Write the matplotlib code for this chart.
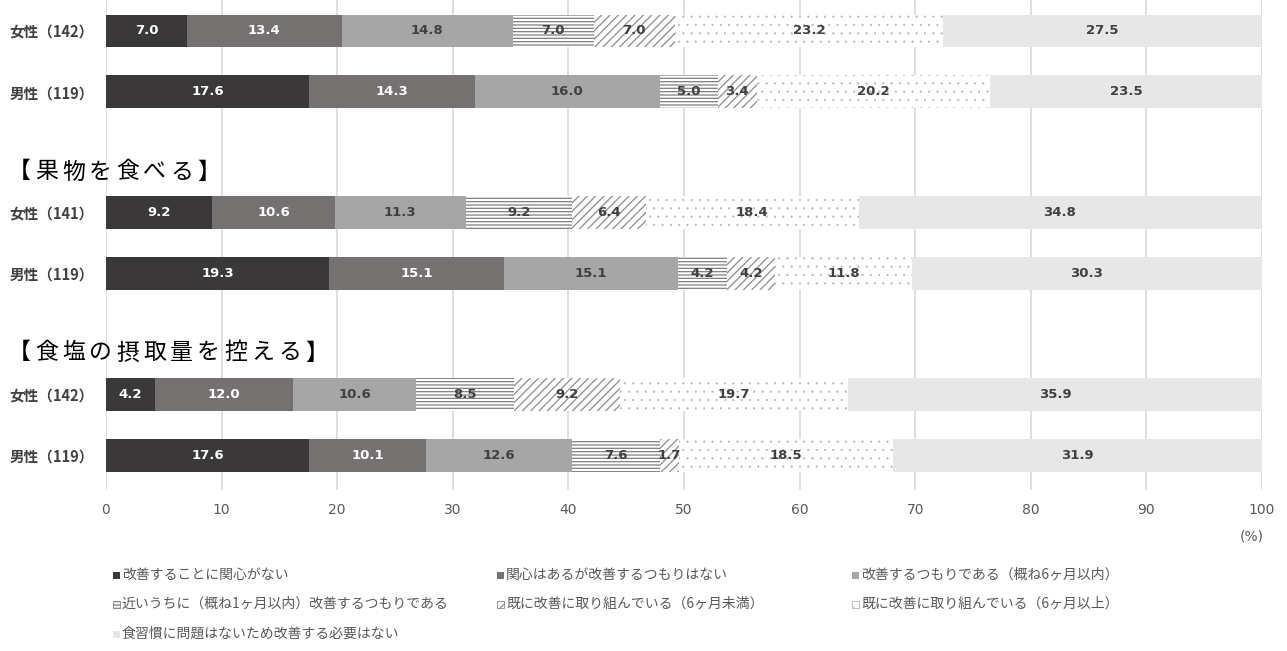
import matplotlib
matplotlib.use('Agg')
import matplotlib.pyplot as plt
from matplotlib.patches import Rectangle

plt.rcParams['font.family'] = ['Noto Sans CJK JP', 'DejaVu Sans']

# ---------------- data ----------------
categories = ['女性（142）', '男性（119）', '女性（141）', '男性（119）', '女性（142）', '男性（119）']
section_titles = ['【果物を食べる】', '【食塩の摂取量を控える】']
series_names = [
    '改善することに関心がない',
    '関心はあるが改善するつもりはない',
    '改善するつもりである（概ね6ヶ月以内）',
    '近いうちに（概ね1ヶ月以内）改善するつもりである',
    '既に改善に取り組んでいる（6ヶ月未満）',
    '既に改善に取り組んでいる（6ヶ月以上）',
    '食習慣に問題はないため改善する必要はない',
]
s1 = [7.0, 17.6, 9.2, 19.3, 4.2, 17.6]
s2 = [13.4, 14.3, 10.6, 15.1, 12.0, 10.1]
s3 = [14.8, 16.0, 11.3, 15.1, 10.6, 12.6]
s4 = [7.0, 5.0, 9.2, 4.2, 8.5, 7.6]
s5 = [7.0, 3.4, 6.4, 4.2, 9.2, 1.7]
s6 = [23.2, 20.2, 18.4, 11.8, 19.7, 18.5]
s7 = [27.5, 23.5, 34.8, 30.3, 35.9, 31.9]
series_values = [s1, s2, s3, s4, s5, s6, s7]
x_ticks = [0, 10, 20, 30, 40, 50, 60, 70, 80, 90, 100]

# ---------------- styles ----------------
face = ['#3a3838', '#767171', '#a6a6a6', 'white', 'white', 'white', '#e7e7e7']
hatch = [None, None, None, '-----', '////', '..', None]
edge = ['#3a3838', '#767171', '#a6a6a6', '#7f7f7f', '#8c8c8c', '#b3b3b3', '#e7e7e7']
hlw = [1.0, 1.0, 1.0, 0.9, 0.9, 0.3, 1.0]
txtc = ['white', 'white', '#404040', '#404040', '#404040', '#404040', '#404040']

W, H = 1287, 651
fig = plt.figure(figsize=(W / 100, H / 100), dpi=100)
ax = fig.add_axes([106 / W, 1 - 490 / H, (1262 - 106) / W, 490 / H])

y_pos = [0, 1, 3, 4, 6, 7]
left = [0.0] * len(categories)
for i, vals in enumerate(series_values):
    plt.rcParams['hatch.linewidth'] = hlw[i]
    bars = ax.barh(y_pos, vals, left=left, height=0.54, color=face[i],
                   edgecolor=edge[i], hatch=hatch[i], linewidth=0, zorder=2,
                   label=series_names[i])
    ax.bar_label(bars, labels=[f'{v:.1f}' for v in vals], label_type='center',
                 color=txtc[i], fontsize=9.5, fontweight='bold',
                 family=['DejaVu Sans'])
    left = [l + v for l, v in zip(left, vals)]

ax.set_xlim(0, 100)
ax.set_ylim(7.57, -0.51)
ax.set_xticks(x_ticks)
ax.set_xticklabels([str(t) for t in x_ticks], color='#595959', fontsize=10,
                   family=['DejaVu Sans'])
ax.set_yticks(y_pos)
ax.set_yticklabels(categories, fontsize=10.5, fontweight='bold', color='#404040')
ax.tick_params(axis='both', length=0)
ax.tick_params(axis='x', pad=9)
ax.tick_params(axis='y', pad=9)
ax.set_axisbelow(True)
ax.xaxis.grid(True, color='#d9d9d9', linewidth=1.2, zorder=0)
for sp in ax.spines.values():
    sp.set_visible(False)

# section titles (letter-spaced)
title_y = [172, 353]
for t, ypx in zip(section_titles, title_y):
    for k, ch in enumerate(t):
        fig.text((6 + k * 27 + 13.5) / W, 1 - ypx / H, ch, ha='center', va='center',
                 fontsize=16.5, color='black')

# (%) label
fig.text(1252 / W, 1 - 537 / H, '(%)', ha='center', va='center', fontsize=10,
         color='#595959', family=['DejaVu Sans'])

# legend (manual layout, 3 columns)
cols_x = [113, 497, 852]
rows_y = [575, 604, 634]
for i, name in enumerate(series_names):
    r, c = divmod(i, 3)
    x, y = cols_x[c], rows_y[r]
    plt.rcParams['hatch.linewidth'] = hlw[i]
    rect = Rectangle((x / W, 1 - (y + 3.5) / H), 7 / W, 7 / H, transform=fig.transFigure,
                     facecolor=face[i], edgecolor=edge[i], hatch=hatch[i],
                     linewidth=0.6 if hatch[i] else 0)
    fig.patches.append(rect)
    fig.text((x + 9) / W, 1 - y / H, name, ha='left', va='center', fontsize=10,
             color='#595959')

fig.savefig('out.png', dpi=100)
